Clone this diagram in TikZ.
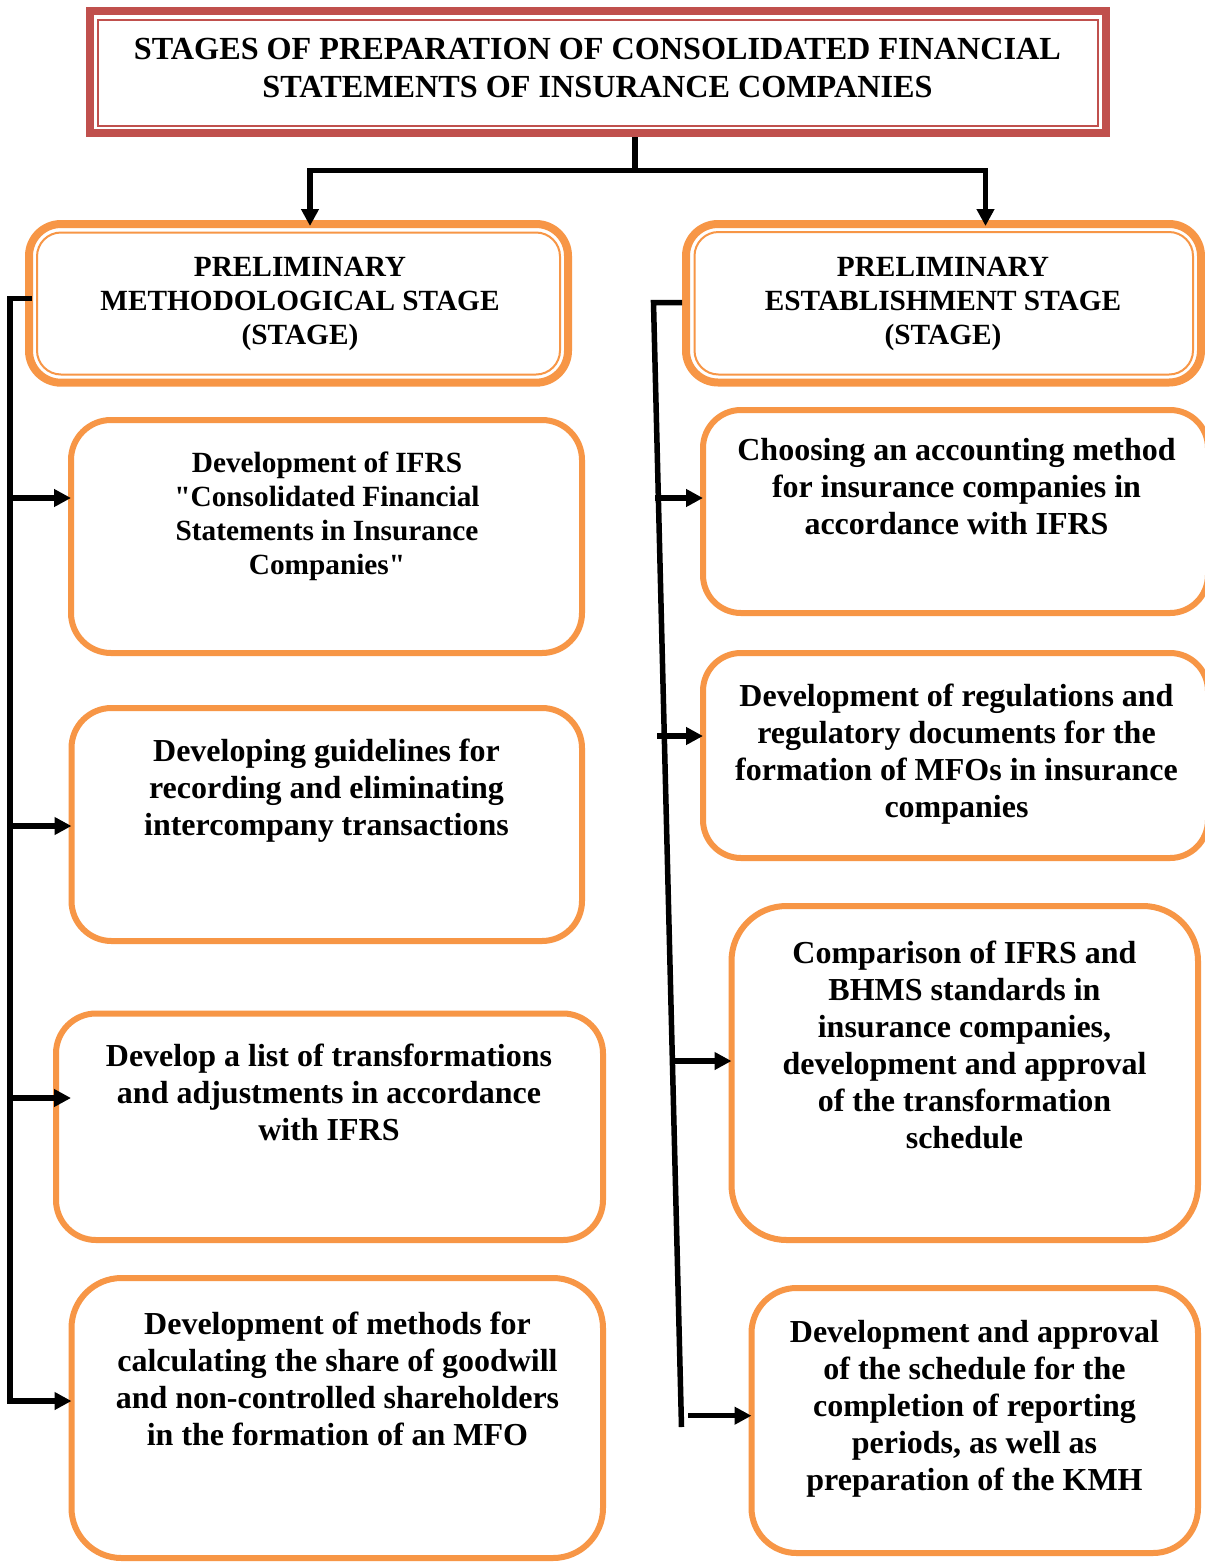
\documentclass[tikz,border=0pt]{standalone}
\usepackage{fontspec}
\setmainfont{Liberation Serif}
\usetikzlibrary{arrows.meta}
\definecolor{orng}{HTML}{F79646}
\definecolor{rd}{HTML}{C0504D}
\newcommand\dq{\XeTeXglyph\XeTeXcharglyph"22\relax}
\begin{document}
\begin{tikzpicture}[x=1pt,y=-1pt,
  box/.style={draw=orng, line width=6pt, inner sep=0pt, outer sep=0pt, rounded corners=40pt},
  stageo/.style={draw=orng, line width=8pt, inner sep=0pt, outer sep=0pt, rounded corners=32pt},
  stagei/.style={draw=orng, line width=2pt, inner sep=0pt, outer sep=0pt, rounded corners=24pt},
  txt/.style={align=center, inner sep=0pt, font=\bfseries\fontsize{32}{37}\selectfont},
  smalltxt/.style={align=center, inner sep=0pt, font=\bfseries\fontsize{29.3}{34}\selectfont},
  conn/.style={line width=5.5pt},
  arr/.style={line width=5.5pt, -{Triangle[length=17pt,width=17pt]}}]
\useasboundingbox (0,0) rectangle (1205,1564);
\clip (0,0) rectangle (1205,1564);
\fill[white] (0,0) rectangle (1205,1564);

% title
\node[draw=rd, line width=8pt, inner sep=0pt, minimum width=1016pt, minimum height=122pt] (title) at (598,72) {};
\node[draw=rd, line width=2pt, inner sep=0pt, minimum width=1000pt, minimum height=105.5pt] (titlein) at (598,72.75) {};
\node[align=center, inner sep=0pt, font=\bfseries\fontsize{32.2}{38}\selectfont] (titletxt) at (597.5,67.5)
  {STAGES OF PREPARATION OF CONSOLIDATED FINANCIAL\\STATEMENTS OF INSURANCE COMPANIES};

% stage boxes
\node[stageo, minimum width=539pt, minimum height=158.7pt] (SL) at (298.5,303.35) {};
\node[stagei, minimum width=523pt, minimum height=142pt] (SLi) at (298.5,303.5) {};
\node[smalltxt] (SLt) at (300,304) {PRELIMINARY\\METHODOLOGICAL STAGE\\(STAGE)};

\node[stageo, minimum width=515pt, minimum height=158.5pt] (SR) at (943.5,303.25) {};
\node[stagei, minimum width=498.5pt, minimum height=142.5pt] (SRi) at (943.75,303.25) {};
\node[smalltxt] (SRt) at (943,304) {PRELIMINARY\\ESTABLISHMENT STAGE\\(STAGE)};

% left boxes
\node[box, minimum width=511pt, minimum height=233pt] (L1) at (326.5,536.5) {};
\node[smalltxt] (L1t) at (327,516) {Development of IFRS\\\dq Consolidated Financial\\Statements in Insurance\\Companies\dq};
\node[box, minimum width=510.5pt, minimum height=233pt] (L2) at (326.75,824.5) {};
\node[txt] (L2t) at (326.5,791) {Developing guidelines for\\recording and eliminating\\intercompany transactions};
\node[box, minimum width=547pt, minimum height=226.5pt] (L3) at (329.5,1126.75) {};
\node[txt] (L3t) at (329,1092.5) {Develop a list of transformations\\and adjustments in accordance\\with IFRS};
\node[box, rounded corners=50pt, minimum width=531.5pt, minimum height=280pt] (L4) at (337.25,1418) {};
\node[txt] (L4t) at (337.5,1379) {Development of methods for\\calculating the share of goodwill\\and non-controlled shareholders\\in the formation of an MFO};

% right boxes
\node[box, rounded corners=38pt, minimum width=505pt, minimum height=203pt] (R1) at (955.5,511.5) {};
\node[txt] (R1t) at (956.5,487) {Choosing an accounting method\\for insurance companies in\\accordance with IFRS};
\node[box, rounded corners=38pt, minimum width=505pt, minimum height=205pt] (R2) at (955.5,755.5) {};
\node[txt] (R2t) at (956.5,754) {Development of regulations and\\regulatory documents for the\\formation of MFOs in insurance\\companies};
\node[box, rounded corners=55pt, minimum width=466.5pt, minimum height=334pt] (R3) at (964.75,1073) {};
\node[txt] (R3t) at (964.5,1045) {Comparison of IFRS and\\BHMS standards in\\insurance companies,\\development and approval\\of the transformation\\schedule};
\node[box, rounded corners=45pt, minimum width=446.5pt, minimum height=265pt] (R4) at (974.75,1420.5) {};
\node[txt] (R4t) at (974.5,1409) {Development and approval\\of the schedule for the\\completion of reporting\\periods, as well as\\preparation of the KMH};

% top connectors
\coordinate (split) at (635,170.5);
\coordinate (lefttip) at (310,226);
\coordinate (righttip) at (985.5,226);
\draw[conn] (split |- title.south) -- (split);
\draw[arr] (split) -| (lefttip);
\draw[arr] (split) -| (righttip);

% left trunk
\coordinate (lstub) at (32,298.5);
\coordinate (ltop) at (10,298.5);
\coordinate (lbot) at (10,1401);
\coordinate (lb1) at (10,498);
\coordinate (lb2) at (10,826);
\coordinate (lb3) at (10,1098);
\draw[arr] (lstub) -- (ltop) -- (lbot) -- (L4.west |- lbot);
\draw[arr] (lb1) -- (L1.west |- lb1);
\draw[arr] (lb2) -- (L2.west |- lb2);
\draw[arr] (lb3) -- ([xshift=15pt]L3.west |- lb3);

% right trunk
\coordinate (rstub) at (682,302.5);
\coordinate (rtop) at (653.5,302.5);
\coordinate (rbot) at (681.5,1427);
\coordinate (rb1) at (655,498);
\coordinate (rb2) at (657,736);
\coordinate (rb3) at (674,1061);
\coordinate (rb4) at (688,1415.7);
\draw[conn] (rstub) -- (rtop) -- (rbot);
\draw[arr] (rb1) -- (R1.west |- rb1);
\draw[arr] (rb2) -- (R2.west |- rb2);
\draw[arr] (rb3) -- (R3.west |- rb3);
\draw[arr] (rb4) -- (R4.west |- rb4);
\end{tikzpicture}
\end{document}
